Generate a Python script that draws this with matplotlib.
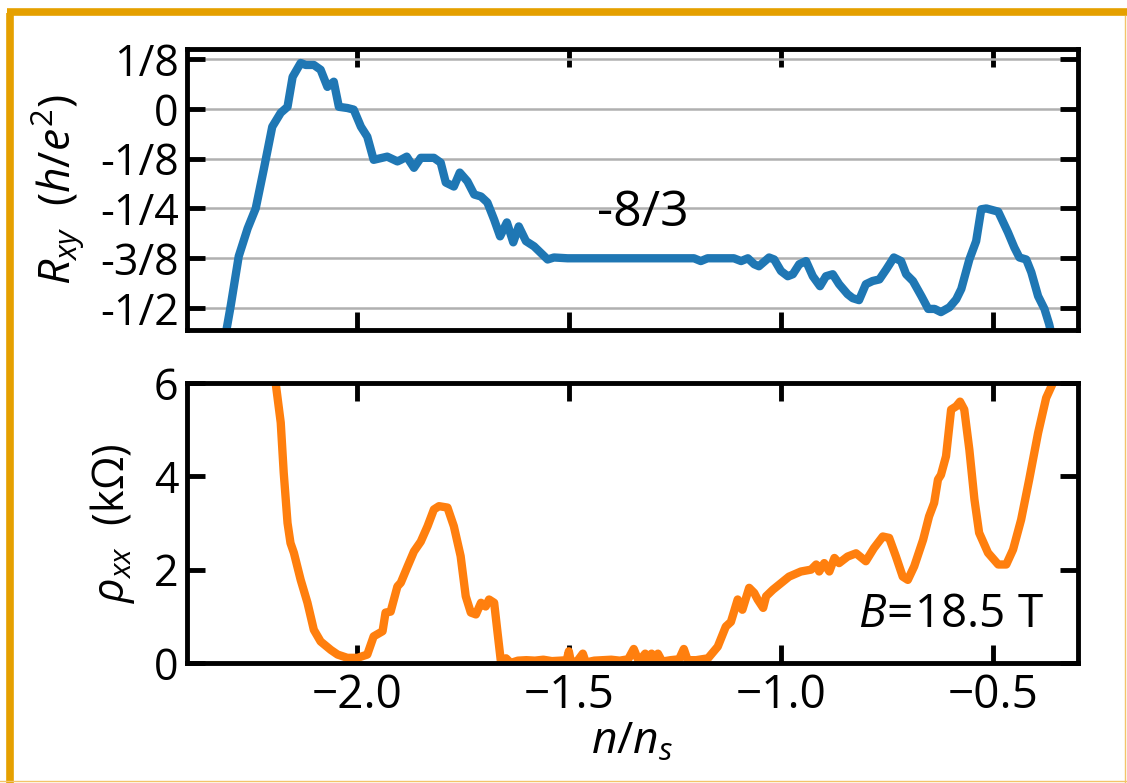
import numpy as np
import matplotlib
matplotlib.use("Agg")
import matplotlib.pyplot as plt
from matplotlib.lines import Line2D

plt.rcParams['font.family'] = ['Open Sans', 'DejaVu Sans']
plt.rcParams['mathtext.fontset'] = 'custom'
plt.rcParams['mathtext.rm'] = 'Open Sans'
plt.rcParams['mathtext.it'] = 'Open Sans:italic'
plt.rcParams['mathtext.bf'] = 'Open Sans:bold'

# Hall resistance R_xy (h/e^2) vs n/n_s
n_xy = [-2.318, -2.307, -2.297, -2.278, -2.257, -2.238, -2.219, -2.199, -2.179,
        -2.163, -2.151, -2.132, -2.120, -2.101, -2.085, -2.069, -2.054, -2.042,
        -2.022, -2.007, -1.990, -1.975, -1.960, -1.928, -1.904, -1.896, -1.882,
        -1.865, -1.849, -1.818, -1.802, -1.790, -1.771, -1.757, -1.739, -1.723,
        -1.707, -1.692, -1.676, -1.662, -1.646, -1.631, -1.618, -1.601, -1.582,
        -1.550, -1.535, -1.503, -1.400, -1.300, -1.205, -1.189, -1.173, -1.111,
        -1.094, -1.078, -1.063, -1.052, -1.028, -1.016, -1.000, -0.984, -0.972,
        -0.957, -0.941, -0.925, -0.908, -0.894, -0.878, -0.863, -0.843, -0.831,
        -0.816, -0.800, -0.784, -0.768, -0.752, -0.734, -0.717, -0.705, -0.689,
        -0.669, -0.653, -0.638, -0.623, -0.603, -0.587, -0.575, -0.556, -0.540,
        -0.528, -0.516, -0.488, -0.465, -0.450, -0.438, -0.422, -0.410, -0.394,
        -0.379, -0.368, -0.355]
r_xy = [-0.600, -0.555, -0.495, -0.370, -0.300, -0.250, -0.152, -0.045, -0.010,
        0.005, 0.080, 0.115, 0.110, 0.110, 0.098, 0.055, 0.068, 0.005,
        0.002, -0.002, -0.045, -0.070, -0.128, -0.120, -0.132, -0.128, -0.120,
        -0.148, -0.123, -0.123, -0.135, -0.185, -0.195, -0.160, -0.182, -0.215,
        -0.220, -0.235, -0.278, -0.320, -0.285, -0.335, -0.295, -0.332, -0.345,
        -0.378, -0.373, -0.375, -0.375, -0.375, -0.375, -0.382, -0.375, -0.375,
        -0.382, -0.375, -0.390, -0.395, -0.373, -0.378, -0.407, -0.420, -0.415,
        -0.390, -0.382, -0.420, -0.445, -0.420, -0.415, -0.440, -0.465, -0.475,
        -0.480, -0.440, -0.432, -0.428, -0.403, -0.373, -0.382, -0.415, -0.432,
        -0.470, -0.502, -0.502, -0.510, -0.498, -0.478, -0.452, -0.378, -0.332,
        -0.252, -0.250, -0.258, -0.310, -0.348, -0.373, -0.378, -0.410, -0.470,
        -0.502, -0.540, -0.600]

# Longitudinal resistivity rho_xx (kOhm) vs n/n_s
n_xx = [-2.196, -2.191, -2.179, -2.172, -2.163, -2.156, -2.148, -2.132, -2.116,
        -2.101, -2.085, -2.061, -2.045, -2.022, -1.998, -1.975, -1.960, -1.939,
        -1.932, -1.920, -1.904, -1.896, -1.880, -1.865, -1.849, -1.833, -1.818,
        -1.806, -1.786, -1.771, -1.755, -1.743, -1.731, -1.719, -1.707, -1.696,
        -1.688, -1.676, -1.668, -1.660, -1.648, -1.637, -1.620, -1.600, -1.580,
        -1.560, -1.540, -1.520, -1.505, -1.500, -1.495, -1.480, -1.467, -1.460,
        -1.440, -1.420, -1.400, -1.380, -1.360, -1.347, -1.335, -1.320, -1.314,
        -1.305, -1.295, -1.290, -1.280, -1.260, -1.240, -1.229, -1.220, -1.200,
        -1.172, -1.149, -1.130, -1.118, -1.102, -1.091, -1.075, -1.063, -1.055,
        -1.042, -1.035, -1.019, -1.000, -0.981, -0.953, -0.929, -0.917, -0.910,
        -0.898, -0.886, -0.874, -0.863, -0.843, -0.823, -0.800, -0.781, -0.760,
        -0.745, -0.729, -0.713, -0.701, -0.686, -0.665, -0.651, -0.639, -0.630,
        -0.623, -0.611, -0.599, -0.587, -0.578, -0.568, -0.556, -0.544, -0.533,
        -0.512, -0.488, -0.469, -0.453, -0.434, -0.415, -0.394, -0.375, -0.359,
        -0.350]
rho_xx = [6.60, 6.00, 5.15, 4.08, 3.00, 2.57, 2.36, 1.78, 1.29,
          0.71, 0.46, 0.28, 0.18, 0.11, 0.11, 0.18, 0.57, 0.68,
          1.08, 1.10, 1.64, 1.72, 2.07, 2.39, 2.60, 2.93, 3.29,
          3.36, 3.33, 2.93, 2.29, 1.43, 1.08, 1.04, 1.29, 1.21,
          1.36, 1.29, 0.65, 0.02, 0.10, 0.00, 0.05, 0.06, 0.05,
          0.07, 0.04, 0.05, 0.06, 0.25, 0.02, 0.04, 0.20, 0.01,
          0.05, 0.06, 0.07, 0.05, 0.08, 0.30, 0.03, 0.20, 0.05,
          0.20, 0.02, 0.20, 0.03, 0.06, 0.08, 0.30, 0.06, 0.06,
          0.10, 0.35, 0.78, 0.88, 1.36, 1.14, 1.61, 1.50, 1.36,
          1.18, 1.43, 1.57, 1.71, 1.85, 1.96, 2.00, 2.11, 1.96,
          2.14, 1.96, 2.25, 2.14, 2.28, 2.35, 2.18, 2.46, 2.71,
          2.68, 2.28, 1.85, 1.78, 2.07, 2.64, 3.14, 3.43, 3.93,
          4.03, 4.43, 5.43, 5.50, 5.60, 5.43, 4.57, 3.50, 2.79,
          2.36, 2.11, 2.11, 2.43, 3.07, 3.93, 4.93, 5.68, 6.00,
          6.30]

xy_ticks = [0.125, 0.0, -0.125, -0.25, -0.375, -0.5]
xy_ticklabels = ['1/8', '0', '-1/8', '-1/4', '-3/8', '-1/2']
xx_ticks = [0, 2, 4, 6]
n_ticks = [-2.0, -1.5, -1.0, -0.5]

fig = plt.figure(figsize=(11.27, 7.83), dpi=100)
ax1 = fig.add_axes([0.1659, 0.5785, 0.7906, 0.3589])
ax2 = fig.add_axes([0.1659, 0.1533, 0.7906, 0.3576])

fs = 31
for ax in (ax1, ax2):
    for s in ax.spines.values():
        s.set_linewidth(3.5)
    ax.tick_params(direction='in', length=13, width=3.5, labelsize=fs,
                   top=True, right=True)
    ax.tick_params(axis='y', pad=6)
    ax.tick_params(axis='x', pad=7, labelsize=33)
    ax.set_xlim(-2.4, -0.3)
    ax.set_xticks(n_ticks)

ax1.plot(n_xy, r_xy, color='#1f77b4', lw=6, solid_joinstyle='round')
ax1.set_ylim(-0.555, 0.15)
ax1.set_yticks(xy_ticks)
ax1.set_yticklabels(xy_ticklabels)
ax1.tick_params(labelbottom=False)
ax1.grid(axis='y', color='#b0b0b0', lw=1.8)
ax1.set_axisbelow(True)
ax1.set_ylabel(r'$R_{xy}$  ($h/e^2$)', fontsize=fs + 1)
ax1.yaxis.set_label_coords(-0.113, 0.5)
ax1.text(-1.325, -0.262, '-8/3', fontsize=fs + 5, ha='center', va='center')

ax2.plot(n_xx, rho_xx, color='#ff7f0e', lw=6, solid_joinstyle='round')
ax2.set_ylim(0, 6)
ax2.set_yticks(xx_ticks)
ax2.set_ylabel(r'$\rho_{xx}$  (k$\Omega$)', fontsize=fs)
ax2.yaxis.set_label_coords(-0.056, 0.5)
ax2.set_xlabel(r'$n/n_s$', fontsize=fs + 1, labelpad=1)
ax2.text(-0.38, 0.76, r'$B\!=\!$18.5 T', fontsize=fs + 2, ha='right', va='baseline')

# gold frame around the figure
gold = '#e5a000'
fig.add_artist(Line2D([0.0089, 0.0089], [0.0, 0.9840], color=gold, lw=5.5,
                      transform=fig.transFigure, solid_capstyle='butt'))
fig.add_artist(Line2D([0.0058, 1.0], [0.9853, 0.9853], color=gold, lw=5.5,
                      transform=fig.transFigure, solid_capstyle='butt'))
fig.add_artist(Line2D([0.9985, 0.9985], [0.0, 0.98], color='#f3c46a', lw=1,
                      transform=fig.transFigure))
fig.add_artist(Line2D([0.0, 1.0], [0.002, 0.002], color='#f3c46a', lw=1,
                      transform=fig.transFigure))

fig.savefig('out.png', dpi=100)
